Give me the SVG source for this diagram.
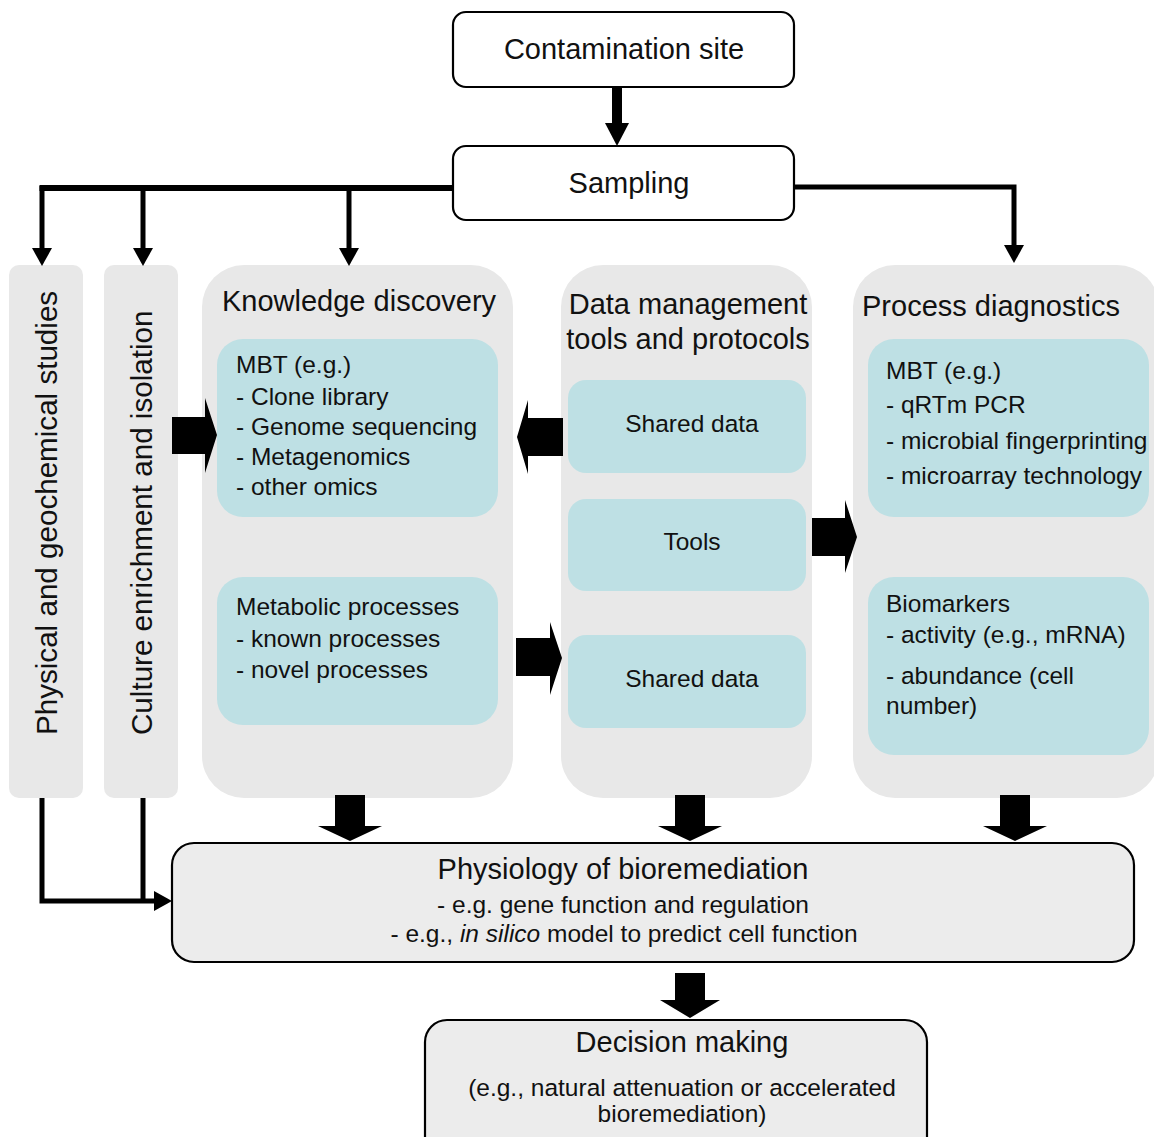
<svg xmlns="http://www.w3.org/2000/svg" width="1154" height="1137" viewBox="0 0 1154 1137">
<style>
text{font-family:"Liberation Sans",Arial,sans-serif;fill:#111}
.t{font-size:29px}
.r{font-size:29.6px}
.b{font-size:24.5px}
.c{text-anchor:middle}
.box{fill:#fff;stroke:#000;stroke-width:2.2}
.gbox{fill:#ececec;stroke:#000;stroke-width:2.2}
.panel{fill:#e8e8e8}
.teal{fill:#bee0e4}
.ln{fill:none;stroke:#000;stroke-width:5}
.blk{fill:#000}
</style>
<defs>
<marker id="ah" viewBox="0 0 18 20" refX="8" refY="10" markerWidth="18" markerHeight="20" markerUnits="userSpaceOnUse" orient="auto">
<path d="M0,0 L18,10 L0,20 z" fill="#000"/>
</marker>
</defs>

<g id="contamination-site">
<rect class="box" x="453" y="12" width="341" height="75" rx="13"/>
<text class="t c" x="624" y="59">Contamination site</text>
</g>

<g id="sampling">
<rect class="box" x="453" y="146" width="341" height="74" rx="13"/>
<text class="t c" x="629" y="193">Sampling</text>
</g>

<g id="physical-geochemical">
<rect class="panel" x="9" y="265" width="74" height="533" rx="10"/>
<text class="r" transform="translate(57,735) rotate(-90)">Physical and geochemical studies</text>
</g>

<g id="culture-enrichment">
<rect class="panel" x="104" y="265" width="74" height="533" rx="10"/>
<text class="r" transform="translate(152,735) rotate(-90)">Culture enrichment and isolation</text>
</g>

<g id="knowledge-discovery">
<rect class="panel" x="202" y="265" width="311" height="533" rx="42"/>
<text class="t" x="222" y="311">Knowledge discovery</text>
<rect class="teal" x="217" y="339" width="281" height="178" rx="26"/>
<text class="b" x="236" y="373">MBT (e.g.)</text>
<text class="b" x="236" y="405">- Clone library</text>
<text class="b" x="236" y="435">- Genome sequencing</text>
<text class="b" x="236" y="465">- Metagenomics</text>
<text class="b" x="236" y="495">- other omics</text>
<rect class="teal" x="217" y="577" width="281" height="148" rx="26"/>
<text class="b" x="236" y="615">Metabolic processes</text>
<text class="b" x="236" y="647">- known processes</text>
<text class="b" x="236" y="678">- novel processes</text>
</g>

<g id="data-management">
<rect class="panel" x="561" y="265" width="251" height="533" rx="42"/>
<text class="t c" x="688" y="314">Data management</text>
<text class="t c" x="688" y="349">tools and protocols</text>
<rect class="teal" x="568" y="380" width="238" height="93" rx="18"/>
<text class="b c" x="692" y="432">Shared data</text>
<rect class="teal" x="568" y="499" width="238" height="92" rx="18"/>
<text class="b c" x="692" y="550">Tools</text>
<rect class="teal" x="568" y="635" width="238" height="93" rx="18"/>
<text class="b c" x="692" y="687">Shared data</text>
</g>

<g id="process-diagnostics">
<rect class="panel" x="853" y="265" width="306" height="533" rx="42"/>
<text class="t" x="862" y="316">Process diagnostics</text>
<rect class="teal" x="868" y="339" width="281" height="178" rx="26"/>
<text class="b" x="886" y="379">MBT (e.g.)</text>
<text class="b" x="886" y="413">- qRTm PCR</text>
<text class="b" x="886" y="449">- microbial fingerprinting</text>
<text class="b" x="886" y="484">- microarray technology</text>
<rect class="teal" x="868" y="577" width="281" height="178" rx="26"/>
<text class="b" x="886" y="612">Biomarkers</text>
<text class="b" x="886" y="643">- activity (e.g., mRNA)</text>
<text class="b" x="886" y="684">- abundance (cell</text>
<text class="b" x="886" y="714">number)</text>
</g>

<g id="physiology">
<rect class="gbox" x="172" y="843" width="962" height="119" rx="22"/>
<text class="t c" x="623" y="879">Physiology of bioremediation</text>
<text class="b c" x="623" y="913">- e.g. gene function and regulation</text>
<text class="b c" x="624" y="942">- e.g., <tspan font-style="italic">in silico</tspan> model to predict cell function</text>
</g>

<g id="decision-making">
<rect class="gbox" x="425" y="1020" width="502" height="140" rx="22"/>
<text class="t c" x="682" y="1052">Decision making</text>
<text class="b c" x="682" y="1096">(e.g., natural attenuation or accelerated</text>
<text class="b c" x="682" y="1122">bioremediation)</text>
</g>

<g id="connectors">
<path d="M617,87 V125" stroke="#000" stroke-width="10" fill="none"/>
<polygon class="blk" points="605,123 629,123 617,146"/>
<path d="M453,188 H39.5" stroke="#000" stroke-width="6" fill="none"/>
<path class="ln" d="M42,186 V256" marker-end="url(#ah)"/>
<path class="ln" d="M143,188 V256" marker-end="url(#ah)"/>
<path class="ln" d="M349,188 V256" marker-end="url(#ah)"/>
<path class="ln" d="M794,187 H1014 V253" marker-end="url(#ah)"/>
<polygon class="blk" points="172,417 205,417 205,398 217,435 205,473 205,454 172,454"/>
<polygon class="blk" points="563,418 528,418 528,400 517,437 528,474 528,456 563,456"/>
<polygon class="blk" points="516,638 550,638 550,622 562,658 550,695 550,676 516,676"/>
<polygon class="blk" points="812,518 845,518 845,500 857,537 845,573 845,556 812,556"/>
<polygon class="blk" points="335,795 365,795 365,826 382,826 350,841 318,826 335,826"/>
<polygon class="blk" points="675,795 705,795 705,826 722,826 690,841 658,826 675,826"/>
<polygon class="blk" points="1000,795 1030,795 1030,826 1047,826 1015,841 983,826 1000,826"/>
<polygon class="blk" points="675,973 705,973 705,1000 720,1000 690,1018 660,1000 675,1000"/>
<path class="ln" d="M42,798 V901 H162" marker-end="url(#ah)"/>
<path class="ln" d="M143,798 V901"/>
</g>
</svg>
